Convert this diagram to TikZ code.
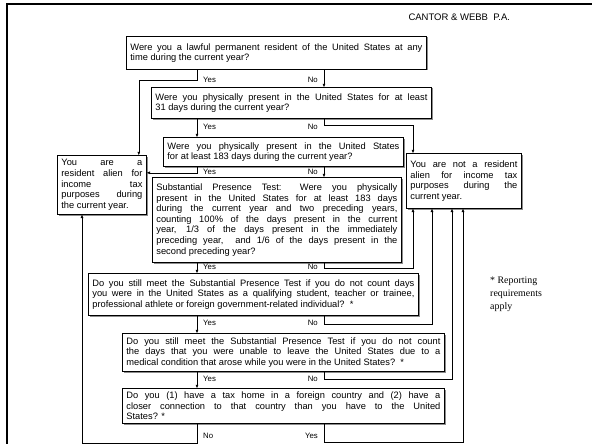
\documentclass[tikz,border=0pt]{standalone}
\usepackage{fontspec}
\setmainfont{Liberation Sans}
\newfontfamily\notefont{Liberation Serif}
\usetikzlibrary{arrows.meta,shadows}

\tikzset{
	qbox/.style={draw,line width=0.8pt,fill=white,anchor=north west,inner xsep=4pt,inner ysep=1.5pt,
		align=justify,font=\fontsize{9.3}{10.6}\selectfont,
		drop shadow={shadow xshift=1.1pt,shadow yshift=-1.1pt,fill=black!45,opacity=1}},
	lbl/.style={font=\fontsize{7.8}{9}\selectfont,inner sep=1pt},
	arr/.style={-{Triangle[length=3.2pt,width=2.6pt]},line width=0.5pt}
}

\begin{document}
\begin{tikzpicture}[x=1pt,y=-1pt]
		\useasboundingbox (0,0) rectangle (592,444);
		\draw[line width=2.6pt] (7,444)--(7,4)--(592,4);
		\node[anchor=west,font=\fontsize{9.5}{11}\selectfont] (firm) at (405,17) {CANTOR \& WEBB\ \ P.A.};

		\coordinate (yx) at (197,0);
		\coordinate (nx) at (324,0);

		% questions
		\node[qbox,text width=292pt,minimum height=33pt] (q1) at (126,36)
			{Were you a lawful permanent resident of the United States at any\linebreak time during the current year?};
		\node[qbox,text width=272pt,minimum height=31pt] (q2) at (151,87)
			{Were you physically present in the United States for at least\linebreak 31 days during the current year?};
		\node[qbox,text width=232pt,minimum height=29pt] (q3) at (163,137)
			{Were you physically present in the United States\linebreak for at least 183 days during the current year?};
		\node[qbox,text width=241pt,minimum height=85pt] (q4) at (152,177)
			{Substantial Presence Test: Were you physically\linebreak present in the United States for at least 183 days\linebreak during the current year and two preceding years,\linebreak counting 100\% of the days present in the current\linebreak year, 1/3 of the days present in the immediately\linebreak preceding year,\ \ and 1/6 of the days present in the\linebreak second preceding year?};
		\node[qbox,text width=322pt,minimum height=42pt] (q5) at (88,273)
			{Do you still meet the Substantial Presence Test if you do not count days\linebreak you were in the United States as a qualifying student, teacher or trainee,\linebreak professional athlete or foreign government-related individual?\ \ *};
		\node[qbox,text width=314pt,minimum height=38pt] (q6) at (122,333)
			{Do you still meet the Substantial Presence Test if you do not count\linebreak the days that you were unable to leave the United States due to a\linebreak medical condition that arose while you were in the United States?\ \ *};
		\node[qbox,text width=314pt,minimum height=35pt] (q7) at (122,388)
			{Do you (1) have a tax home in a foreign country and (2) have a\linebreak closer connection to that country than you have to the United\linebreak States? *};

		% answers
		\node[qbox,text width=81pt,minimum height=59pt] (res) at (57,155)
			{You are a\linebreak resident alien for\linebreak income tax\linebreak purposes during\linebreak the current year.};
		\node[qbox,text width=107pt,minimum height=55pt] (nonres) at (406,153)
			{You are not a resident\linebreak alien for income tax\linebreak purposes during the\linebreak current year.};

		\node[anchor=north west,align=left,inner sep=0pt,font=\notefont\fontsize{9.9}{13}\selectfont] (rep) at (490,277)
			{* Reporting\\requirements\\apply};

		% yes / no labels
		\node[lbl,anchor=west] at (202,80) {Yes};
		\node[lbl,anchor=east] at (319,80) {No};
		\node[lbl,anchor=west] at (202,127) {Yes};
		\node[lbl,anchor=east] at (319,127) {No};
		\node[lbl,anchor=west] at (202,172) {Yes};
		\node[lbl,anchor=east] at (319,172) {No};
		\node[lbl,anchor=west] at (202,267) {Yes};
		\node[lbl,anchor=east] at (319,267) {No};
		\node[lbl,anchor=west] at (202,323) {Yes};
		\node[lbl,anchor=east] at (319,323) {No};
		\node[lbl,anchor=west] at (202,379) {Yes};
		\node[lbl,anchor=east] at (319,379) {No};
		\node[lbl,anchor=west] at (202,436) {No};
		\node[lbl,anchor=east] at (319,436) {Yes};

		% connectors
		\draw[arr] (q1.south -| yx) -- ++(0,10) -| ([xshift=-8pt]res.north east);
		\draw[arr] (q1.south -| nx) -- (q2.north -| nx);
		\draw[arr] (q2.south -| yx) -- (q3.north -| yx);
		\draw[arr] (q2.south -| nx) -- ++(0,6) -| ([xshift=7pt]nonres.north west);
		\draw[arr] (q3.south -| yx) -- ++(0,6) coordinate (c3) -- (c3 -| res.east);
		\draw[arr] (q3.south -| nx) -- (q4.north -| nx);
		\draw[arr] (q4.south -| yx) -- (q5.north -| yx);
		\draw[arr] (q4.south -| nx) -- ++(0,5) -| ([xshift=7pt]nonres.south west);
		\draw[arr] (q5.south -| yx) -- (q6.north -| yx);
		\draw[arr] (q5.south -| nx) -- ++(0,8) -| ([xshift=26pt]nonres.south west);
		\draw[arr] (q6.south -| yx) -- (q7.north -| yx);
		\draw[arr] (q6.south -| nx) -- ++(0,7) -| ([xshift=46pt]nonres.south west);
		\draw[arr] (q7.south -| yx) -- ++(0,19) -| ([xshift=25pt]res.south west);
		\draw[arr] (q7.south -| nx) -- ++(0,18) -| ([xshift=57pt]nonres.south west);
\end{tikzpicture}
\end{document}
